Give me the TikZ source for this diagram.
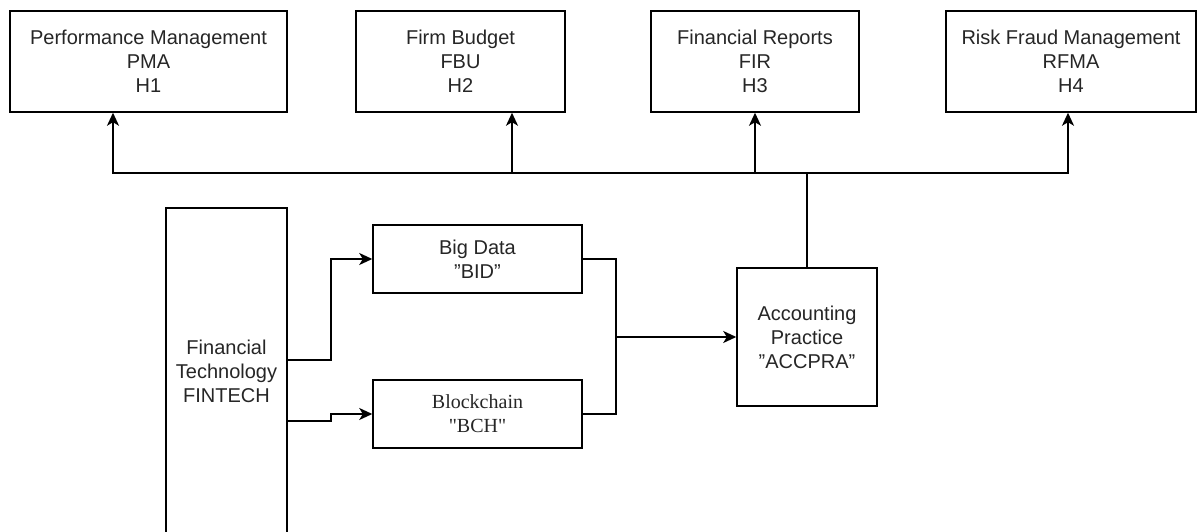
\documentclass[tikz,border=0pt]{standalone}
\usepackage{fontspec}
\setmainfont{Liberation Sans}
\newfontfamily\serifb{Liberation Serif}
\usetikzlibrary{arrows.meta}
\begin{document}
\begin{tikzpicture}[x=1pt,y=1pt,
  box/.style={draw=black,line width=1.5pt,fill=white,inner sep=0pt,align=center,
    font=\fontsize{20}{24}\selectfont,text=black!85},
  wire/.style={draw=black,line width=1.6pt},
  arr/.style={wire,-{Stealth[length=13pt,width=12pt,inset=3.5pt]}}]
\clip (0,0) rectangle (1198,531);
\fill[white] (0,0) rectangle (1198,531);
% top row
\node[box,minimum width=277pt,minimum height=101pt] (pma) at (148.5,469.5) {Performance Management\\PMA\\H1};
\node[box,minimum width=209pt,minimum height=101pt] (fbu) at (460.5,469.5) {Firm Budget\\FBU\\H2};
\node[box,minimum width=208pt,minimum height=101pt] (fir) at (755,469.5) {Financial Reports\\FIR\\H3};
\node[box,minimum width=250pt,minimum height=101pt] (rfma) at (1071,469.5) {Risk Fraud Management\\RFMA\\H4};
% lower part
\node[box,minimum width=121pt,minimum height=326pt] (fin) at (226.5,160) {Financial\\Technology\\FINTECH};
\node[box,minimum width=209pt,minimum height=68pt] (bd) at (477.5,272) {Big Data\\\symbol{34}BID\symbol{34}};
\node[box,minimum width=209pt,minimum height=68pt,font=\serifb\fontsize{20}{24}\selectfont] (bch) at (477.5,117) {Blockchain\\\symbol{34}BCH\symbol{34}};
\node[box,minimum width=140pt,minimum height=138pt] (acc) at (807,194) {Accounting\\Practice\\\symbol{34}ACCPRA\symbol{34}};
% connectors
\coordinate (jn) at (616,194);
\coordinate (bus) at (807,358);
\draw[arr] ([yshift=11pt]fin.east) -- ++(43,0) |- (bd.west);
\draw[arr] ([yshift=-50pt]fin.east) -- ++(43,0) |- (bch.west);
\draw[wire] (bd.east) -| (jn);
\draw[wire] (bch.east) -| (jn);
\draw[arr] (jn) -- (acc.west);
\draw[wire] (acc.north) -- (bus);
\draw[arr] (bus) -| ([xshift=-35.5pt]pma.south);
\draw[arr] (bus) -| ([xshift=51.5pt]fbu.south);
\draw[arr] (bus) -| (fir.south);
\draw[arr] (bus) -| ([xshift=-3pt]rfma.south);
\end{tikzpicture}
\end{document}
